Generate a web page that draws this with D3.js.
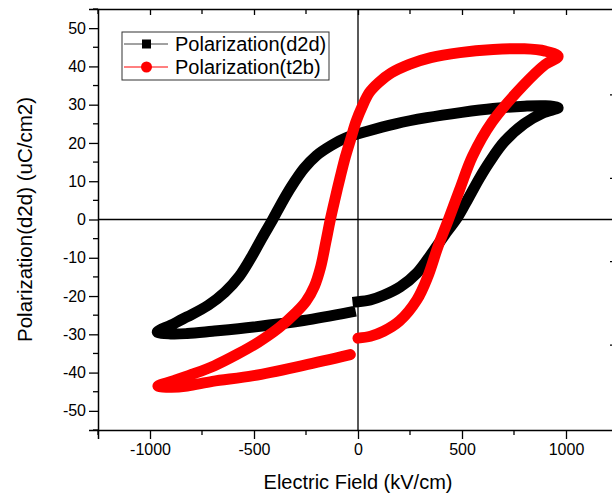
<!DOCTYPE html>
<html><head><meta charset="utf-8">
<script src="https://cdn.jsdelivr.net/npm/d3@7"></script>
<style>
html,body{margin:0;padding:0;background:#fff;}
svg text{font-family:"Liberation Sans",Arial,sans-serif;fill:#000;}
</style></head>
<body>
<svg id="chart" width="612" height="495"></svg>
<script>
// ---- data ----
const seriesNames = ["Polarization(d2d)", "Polarization(t2b)"];
// d2d loop: rising branch from 0, upper branch back to -Emax, lower branch back toward 0
const d2dField = [0, 60, 123, 203, 283, 363, 430, 478, 530, 584, 632, 703, 799, 889, 962,
  900, 800, 650, 500, 330, 180, 40, -60, -130, -200, -260, -320, -370, -410, -460, -510, -570, -640, -720, -820, -900, -965,
  -900, -821, -700, -502, -262, -37];
const d2dPol = [-21.5, -21.0, -19.8, -17.6, -14.0, -8.2, -3.0, 0.5, 5.5, 10.8, 15.0, 20.3, 25.0, 27.8, 29.2,
  29.7, 29.6, 29.0, 28.0, 26.6, 25.0, 23.0, 21.3, 19.3, 16.7, 13.3, 8.6, 4.0, 0, -4.7, -9.6, -14.8, -19.0, -22.4, -25.4, -27.6, -29.4,
  -29.9, -29.8, -29.2, -28.1, -26.4, -24.2];
// t2b loop
const t2bField = [0, 60, 123, 200, 283, 335, 385, 435, 490, 550, 645, 794, 900, 962,
  900, 800, 650, 490, 350, 250, 160, 100, 55, 20, -10, -35, -60, -85, -110, -133, -155, -180, -210, -250, -300, -380, -480, -580, -690, -800, -890, -962,
  -900, -821, -700, -502, -262, -37];
const t2bPol = [-31.0, -30.5, -29.2, -26.5, -21.0, -15.0, -7.0, 0, 8.0, 16.5, 25.5, 35.0, 40.5, 42.6,
  44.0, 44.6, 44.4, 43.6, 42.3, 40.6, 38.3, 35.8, 33.2, 29.5, 25.5, 21.0, 16.5, 11.2, 5.5, 0, -6.0, -12.5, -17.5, -21.4, -24.4, -28.3, -32.1, -35.2, -38.2, -40.5, -42.2, -43.5,
  -43.8, -43.5, -42.3, -40.8, -38.1, -35.3];
const xTicks = [-1000, -500, 0, 500, 1000];
const xMinor = [-1250, -750, -250, 250, 750, 1250];
const yTicks = [-50, -40, -30, -20, -10, 0, 10, 20, 30, 40, 50];
const yMinor = [-55, -45, -35, -25, -15, -5, 5, 15, 25, 35, 45, 55];
const rightTicks = [-30, -10, 10, 30];
const xTitle = "Electric Field (kV/cm)";
const yTitle = "Polarization(d2d) (uC/cm2)";

// ---- layout ----
const L = 98, R = 618, T = 9, B = 430;
const svg = d3.select("#chart");
const x = d3.scaleLinear().domain([-1250, 1250]).range([L, R]);
const y = d3.scaleLinear().domain([-55, 55]).range([B, T]);
const yR = d3.scaleLinear().domain([-50.5, 50.5]).range([B, T]);
const fmt = d => String(d);

const axisStyle = g => {
  g.selectAll(".domain").attr("stroke", "#000").attr("stroke-width", 1.5);
  g.selectAll(".tick line").attr("stroke", "#000").attr("stroke-width", 1.3);
  g.selectAll(".tick text").attr("font-size", 16).attr("fill", "#000")
    .attr("font-family", "Liberation Sans, Arial, sans-serif");
};

// zero lines
svg.append("line").attr("x1", x(0)).attr("x2", x(0)).attr("y1", T).attr("y2", B)
  .attr("stroke", "#000").attr("stroke-width", 1.3);
svg.append("line").attr("x1", L).attr("x2", R).attr("y1", y(0)).attr("y2", y(0))
  .attr("stroke", "#000").attr("stroke-width", 1.3);

// curves
const line = d3.line().x(d => x(d[0])).y(d => y(d[1])).curve(d3.curveCatmullRom.alpha(0.5));
const d2d = d2dField.map((e, i) => [e, d2dPol[i]]);
const t2b = t2bField.map((e, i) => [e, t2bPol[i]]);
svg.append("path").attr("d", line(d2d)).attr("fill", "none").attr("stroke", "#000")
  .attr("stroke-width", 11).attr("stroke-linecap", "square").attr("stroke-linejoin", "round");
svg.append("path").attr("d", line(t2b)).attr("fill", "none").attr("stroke", "#ff0000")
  .attr("stroke-width", 11).attr("stroke-linecap", "round").attr("stroke-linejoin", "round");

// minor ticks
const gMinor = svg.append("g").attr("stroke", "#000").attr("stroke-width", 1.3);
yMinor.forEach(v => gMinor.append("line").attr("x1", L - 5).attr("x2", L).attr("y1", y(v)).attr("y2", y(v)));
xMinor.forEach(v => {
  gMinor.append("line").attr("x1", x(v)).attr("x2", x(v)).attr("y1", B).attr("y2", B + 5);
  gMinor.append("line").attr("x1", x(v)).attr("x2", x(v)).attr("y1", T).attr("y2", T + 5);
});

// axes
svg.append("g").attr("transform", `translate(0,${B})`)
  .call(d3.axisBottom(x).tickValues(xTicks).tickSize(9).tickPadding(5).tickFormat(fmt))
  .call(axisStyle);
svg.append("g").attr("transform", `translate(${L},0)`)
  .call(d3.axisLeft(y).tickValues(yTicks).tickSize(9).tickPadding(3).tickFormat(fmt))
  .call(axisStyle);
svg.append("g").attr("transform", `translate(0,${T})`)
  .call(d3.axisTop(x).tickValues(xTicks).tickSizeInner(-6).tickSizeOuter(0).tickFormat(""))
  .call(axisStyle);
svg.append("g").attr("transform", `translate(${R},0)`)
  .call(d3.axisRight(yR).tickValues(rightTicks).tickSizeInner(-8).tickSizeOuter(0).tickFormat(""))
  .call(axisStyle);

// titles
svg.append("text").attr("x", (L + R) / 2).attr("y", 489).attr("text-anchor", "middle")
  .attr("font-size", 20).text(xTitle);
svg.append("text").attr("transform", `translate(32,${(T + B) / 2}) rotate(-90)`)
  .attr("text-anchor", "middle").attr("font-size", 20.5).text(yTitle);

// legend
const lg = svg.append("g");
lg.append("rect").attr("x", 122).attr("y", 32).attr("width", 207).attr("height", 48)
  .attr("fill", "#fff").attr("stroke", "#333").attr("stroke-width", 1);
const rows = [44, 67];
lg.append("line").attr("x1", 124).attr("x2", 168).attr("y1", rows[0]).attr("y2", rows[0]).attr("stroke", "#444").attr("stroke-width", 1);
lg.append("rect").attr("x", 146.5 - 4.5).attr("y", rows[0] - 4.5).attr("width", 9).attr("height", 9).attr("fill", "#000");
lg.append("line").attr("x1", 124).attr("x2", 168).attr("y1", rows[1]).attr("y2", rows[1]).attr("stroke", "#ff0000").attr("stroke-width", 1);
lg.append("circle").attr("cx", 146.5).attr("cy", rows[1]).attr("r", 5.5).attr("fill", "#ff0000");
seriesNames.forEach((n, i) => lg.append("text").attr("x", 175).attr("y", rows[i] + 7)
  .attr("font-size", 20).text(n));
</script>
</body></html>
